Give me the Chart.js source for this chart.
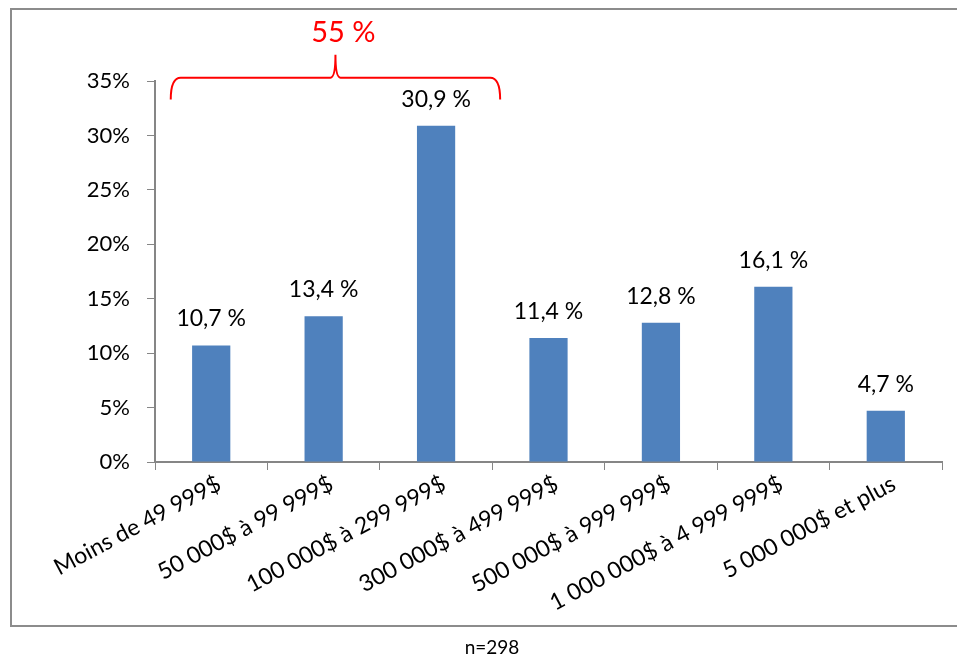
<!DOCTYPE html>
<html lang="fr">
<head>
  <meta charset="UTF-8">
  <title>Répartition</title>
  <script src="https://cdn.jsdelivr.net/npm/chart.js"></script>
  <style>
    body { margin: 0; background: #fff; font-family: Lato, sans-serif; }
    #frame { position: absolute; left: 10px; top: 8px; width: 980px; height: 619px; border: 2px solid #8c8c8c; box-sizing: border-box; }
    #wrap { position: absolute; left: 0; top: 0; width: 957px; height: 658px; }
    #note { position: absolute; top: 635px; left: 0; width: 984px; text-align: center; font-size: 19px; color: #000; }
  </style>
</head>
<body>
  <div id="frame"></div>
  <div id="wrap"><canvas id="chart" width="957" height="658"></canvas></div>
  <div id="note">n=298</div>

  <script>
    const categories = ['Moins de 49 999$', '50 000$ à 99 999$', '100 000$ à 299 999$', '300 000$ à 499 999$',
      '500 000$ à 999 999$', '1 000 000$ à 4 999 999$', '5 000 000$ et plus'];
    const values = [10.7, 13.4, 30.9, 11.4, 12.8, 16.1, 4.7];
    const groupLabel = '55 %';

    // value labels above the bars, e.g. "10,7 %"
    const barLabels = {
      id: 'barLabels',
      afterDatasetsDraw(chart) {
        const ctx = chart.ctx;
        const meta = chart.getDatasetMeta(0);
        ctx.save();
        ctx.font = '23px Lato';
        ctx.fillStyle = '#000';
        ctx.textAlign = 'center';
        ctx.textBaseline = 'bottom';
        meta.data.forEach((bar, i) => {
          ctx.fillText(values[i].toFixed(1).replace('.', ',') + ' %', bar.x, bar.y - 15);
        });
        ctx.restore();
      }
    };

    // red brace over the first three categories
    const brace = {
      id: 'brace',
      afterDraw(chart) {
        const ctx = chart.ctx;
        const xs = chart.scales.x, ys = chart.scales.y;
        const x0 = xs.getPixelForValue(-0.36), x1 = xs.getPixelForValue(2.57);
        const xm = (x0 + x1) / 2;
        const yTop = ys.getPixelForValue(35.3), yEnd = ys.getPixelForValue(33.3), yTip = ys.getPixelForValue(37.4);
        const r = 5;
        ctx.save();
        ctx.strokeStyle = '#ff0000';
        ctx.lineWidth = 2;
        ctx.beginPath();
        ctx.moveTo(x0, yEnd);
        ctx.quadraticCurveTo(x0, yTop, x0 + r * 2, yTop);
        ctx.lineTo(xm - r, yTop);
        ctx.quadraticCurveTo(xm, yTop, xm, yTip);
        ctx.quadraticCurveTo(xm, yTop, xm + r, yTop);
        ctx.lineTo(x1 - r * 2, yTop);
        ctx.quadraticCurveTo(x1, yTop, x1, yEnd);
        ctx.stroke();
        ctx.fillStyle = '#ff0000';
        ctx.font = '29px Lato';
        ctx.textAlign = 'center';
        ctx.textBaseline = 'bottom';
        ctx.fillText(groupLabel, xm + 8, yTip - 8);
        ctx.restore();
      }
    };

    new Chart(document.getElementById('chart'), {
      type: 'bar',
      data: {
        labels: categories,
        datasets: [{
          data: values,
          backgroundColor: '#4f81bd',
          categoryPercentage: 1,
          barPercentage: 0.34
        }]
      },
      options: {
        responsive: false,
        animation: false,
        layout: { padding: { top: 81, right: 15, left: 0, bottom: 0 } },
        plugins: { legend: { display: false }, tooltip: { enabled: false } },
        scales: {
          y: {
            min: 0,
            max: 35,
            afterFit(scale) { scale.width = 155; },
            ticks: { stepSize: 5, color: '#000', font: { family: 'Lato', size: 22 }, padding: 17,
              callback: v => v + '%' },
            grid: { drawOnChartArea: false, color: '#868686', tickLength: 8 },
            border: { color: '#868686', width: 2 }
          },
          x: {
            afterFit(scale) { scale.height = 196; },
            ticks: { color: '#000', font: { family: 'Lato', size: 23 }, minRotation: 28, maxRotation: 28,
              autoSkip: false, padding: 0, labelOffset: 8 },
            grid: { drawOnChartArea: false, color: '#868686', tickLength: 8, offset: true },
            border: { color: '#868686', width: 2 }
          }
        }
      },
      plugins: [barLabels, brace]
    });
  </script>
</body>
</html>
